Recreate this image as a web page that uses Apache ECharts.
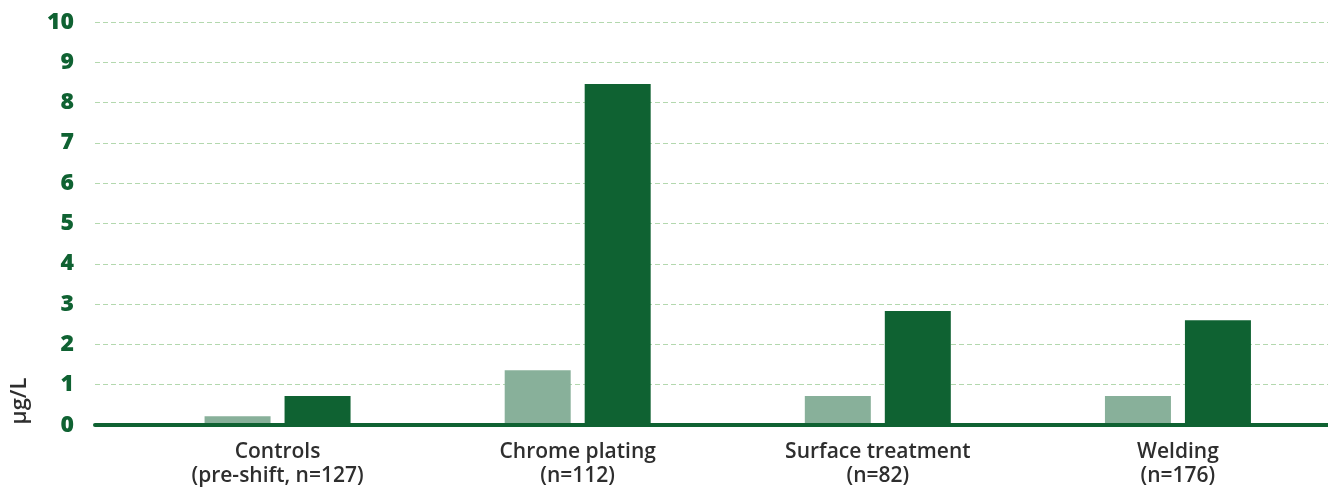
<!DOCTYPE html>
<html>
<head>
<meta charset="utf-8">
<script src="https://cdn.jsdelivr.net/npm/echarts@6/dist/echarts.min.js"></script>
<style>
  html, body { margin: 0; padding: 0; background: #ffffff; }
  #chart { width: 1328px; height: 488px; }
</style>
</head>
<body>
<div id="chart"></div>
<script>
// Chromium concentration by worker group
const categories = [
  'Controls\n(pre-shift, n=127)',
  'Chrome plating\n(n=112)',
  'Surface treatment\n(n=82)',
  'Welding\n(n=176)'
];
const lightValues = [0.22, 1.36, 0.72, 0.72];
const darkValues = [0.72, 8.46, 2.83, 2.6];
const yTicks = [0, 1, 2, 3, 4, 5, 6, 7, 8, 9, 10];
const unitLabel = 'μg/L';

const DARK = '#0f6232';
const LIGHT = '#88b09a';
const FONT = '"Open Sans", "Noto Sans", sans-serif';

const chart = echarts.init(document.getElementById('chart'), null, { renderer: 'canvas' });

chart.setOption({
  animation: false,
  grid: [
    // bars
    { left: 127.5, right: -4, top: 22, bottom: 63, containLabel: false },
    // gridlines, value labels and baseline
    { left: 95, right: 0, top: 22, bottom: 63, containLabel: false }
  ],
  xAxis: [
    {
      type: 'category',
      gridIndex: 0,
      data: categories,
      axisLine: { show: false },
      axisTick: { show: false },
      axisLabel: {
        margin: 15,
        fontFamily: FONT,
        fontWeight: 600,
        fontSize: 21,
        lineHeight: 24,
        color: '#2e2e2e',
        interval: 0
      }
    },
    {
      type: 'value',
      gridIndex: 1,
      min: 0,
      max: 1,
      z: 5,
      axisLine: { show: true, onZero: false, lineStyle: { color: DARK, width: 4 } },
      axisTick: { show: false },
      axisLabel: { show: false },
      splitLine: { show: false }
    }
  ],
  yAxis: [
    {
      type: 'value',
      gridIndex: 0,
      min: yTicks[0],
      max: yTicks[yTicks.length - 1],
      interval: 1,
      show: false
    },
    {
      type: 'value',
      gridIndex: 1,
      min: yTicks[0],
      max: yTicks[yTicks.length - 1],
      interval: 1,
      axisLine: { show: false },
      axisTick: { show: false },
      axisLabel: {
        margin: 21,
        fontFamily: FONT,
        fontWeight: 800,
        fontSize: 23,
        color: DARK
      },
      splitLine: {
        show: true,
        lineStyle: { color: '#b3d8ae', width: 1, type: [5, 3] }
      }
    }
  ],
  graphic: [
    {
      type: 'text',
      x: 20,
      y: 401,
      rotation: Math.PI / 2,
      style: {
        text: unitLabel,
        fontFamily: FONT,
        fontWeight: 600,
        fontSize: 22,
        fill: '#2e2e2e',
        textAlign: 'center',
        textVerticalAlign: 'middle'
      },
      originX: 0,
      originY: 0
    }
  ],
  series: [
    {
      type: 'bar',
      xAxisIndex: 0,
      yAxisIndex: 0,
      data: lightValues,
      barWidth: 66,
      barGap: '21.2%',
      itemStyle: { color: LIGHT }
    },
    {
      type: 'bar',
      xAxisIndex: 0,
      yAxisIndex: 0,
      data: darkValues,
      barWidth: 66,
      barGap: '21.2%',
      itemStyle: { color: DARK }
    }
  ]
});
</script>
</body>
</html>
